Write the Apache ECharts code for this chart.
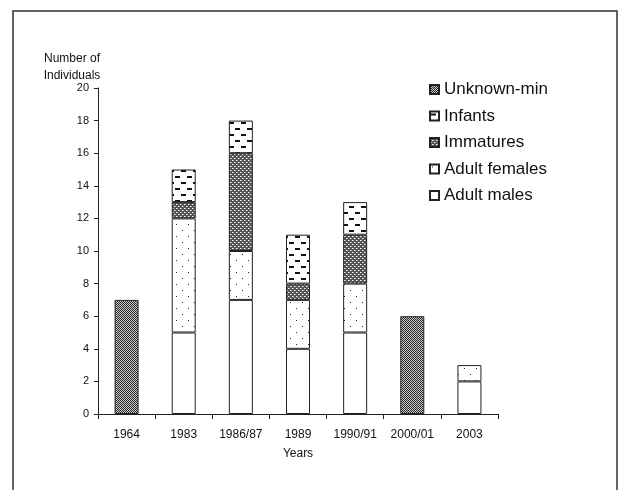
<!DOCTYPE html>
<html>
<head>
<meta charset="utf-8">
<script src="https://cdn.jsdelivr.net/npm/echarts@6/dist/echarts.min.js"></script>
<style>html,body{margin:0;padding:0;background:#fff}#c{width:621px;height:490px}</style>
</head>
<body>
<div id="c"></div>
<script>
const categories = ['1964', '1983', '1986/87', '1989', '1990/91', '2000/01', '2003'];
const adultMales   = [null, 5, 7, 4, 5, null, 2];
const adultFemales = [null, 7, 3, 3, 3, null, 1];
const immatures    = [null, 1, 6, 1, 3, null, null];
const infants      = [null, 2, 2, 3, 2, null, null];
const unknownMin   = [7, null, null, null, null, 6, null];
const legendOrder  = ['Unknown-min', 'Infants', 'Immatures', 'Adult females', 'Adult males'];

function makePattern(w, h, draw) {
  const c = document.createElement('canvas');
  c.width = w; c.height = h;
  const ctx = c.getContext('2d');
  draw(ctx);
  return { image: c, repeat: 'repeat' };
}
const patUnknown = makePattern(2, 2, ctx => {
  ctx.fillStyle = '#c8c8c8'; ctx.fillRect(0, 0, 2, 2);
  ctx.fillStyle = '#2a2a2a'; ctx.fillRect(0, 0, 1, 1); ctx.fillRect(1, 1, 1, 1);
});
const patImm = makePattern(4, 4, ctx => {
  ctx.fillStyle = '#555'; ctx.fillRect(0, 0, 4, 4);
  ctx.fillStyle = '#ffffff'; ctx.fillRect(0, 0, 1, 1); ctx.fillRect(2, 2, 1, 1);
  ctx.fillStyle = '#a8a8a8'; ctx.fillRect(1, 0, 1, 1); ctx.fillRect(3, 2, 1, 1);
});
const patFem = makePattern(12, 12, ctx => {
  ctx.fillStyle = '#fff'; ctx.fillRect(0, 0, 12, 12);
  ctx.fillStyle = '#222'; ctx.fillRect(2, 2, 1, 1); ctx.fillRect(8, 8, 1, 1);
});
const patInf = makePattern(12, 12, ctx => {
  ctx.fillStyle = '#fff'; ctx.fillRect(0, 0, 12, 12);
  ctx.fillStyle = '#111'; ctx.fillRect(1, 2, 5, 2); ctx.fillRect(7, 8, 5, 2);
});

const chart = echarts.init(document.getElementById('c'), null, { renderer: 'canvas' });
const font = 'Liberation Sans, Arial, sans-serif';
function bar(name, data, color) {
  return {
    name, type: 'bar', stack: 'a', data, barWidth: 24,
    itemStyle: { color, borderColor: '#222', borderWidth: 1 },
    emphasis: { disabled: true }
  };
}
chart.setOption({
  animation: false,
  backgroundColor: '#fff',
  graphic: [{
    type: 'rect', shape: { x: 13, y: 11, width: 604, height: 500 },
    style: { fill: 'none', stroke: '#333', lineWidth: 1.5 }, silent: true
  }],
  title: {
    text: 'Number of\nIndividuals', left: 67, top: 45, textAlign: 'center',
    textStyle: { fontFamily: font, fontSize: 12, fontWeight: 'normal', color: '#111', lineHeight: 17 }
  },
  legend: {
    data: legendOrder, orient: 'vertical', left: 424, top: 76,
    itemWidth: 9, itemHeight: 9, itemGap: 9.5, icon: 'rect',
    textStyle: { fontFamily: font, fontSize: 17, color: '#111' }
  },
  grid: { left: 98, right: 123, top: 88, bottom: 76, containLabel: false },
  xAxis: {
    type: 'category', data: categories,
    axisLine: { lineStyle: { color: '#222', width: 1 } },
    axisTick: { show: true, length: 5, lineStyle: { color: '#222' } },
    axisLabel: { fontFamily: font, fontSize: 12, color: '#111', margin: 15 },
    name: 'Years', nameLocation: 'middle', nameGap: 34,
    nameTextStyle: { fontFamily: font, fontSize: 12, color: '#111' }
  },
  yAxis: {
    type: 'value', min: 0, max: 20, interval: 2,
    axisLine: { show: true, lineStyle: { color: '#222', width: 1 } },
    axisTick: { show: true, length: 4, lineStyle: { color: '#222' } },
    splitLine: { show: false },
    axisLabel: { fontFamily: font, fontSize: 11, color: '#111', margin: 9 }
  },
  series: [
    bar('Adult males', adultMales, '#ffffff'),
    bar('Adult females', adultFemales, patFem),
    bar('Immatures', immatures, patImm),
    bar('Infants', infants, patInf),
    bar('Unknown-min', unknownMin, patUnknown)
  ]
});
</script>
</body>
</html>
